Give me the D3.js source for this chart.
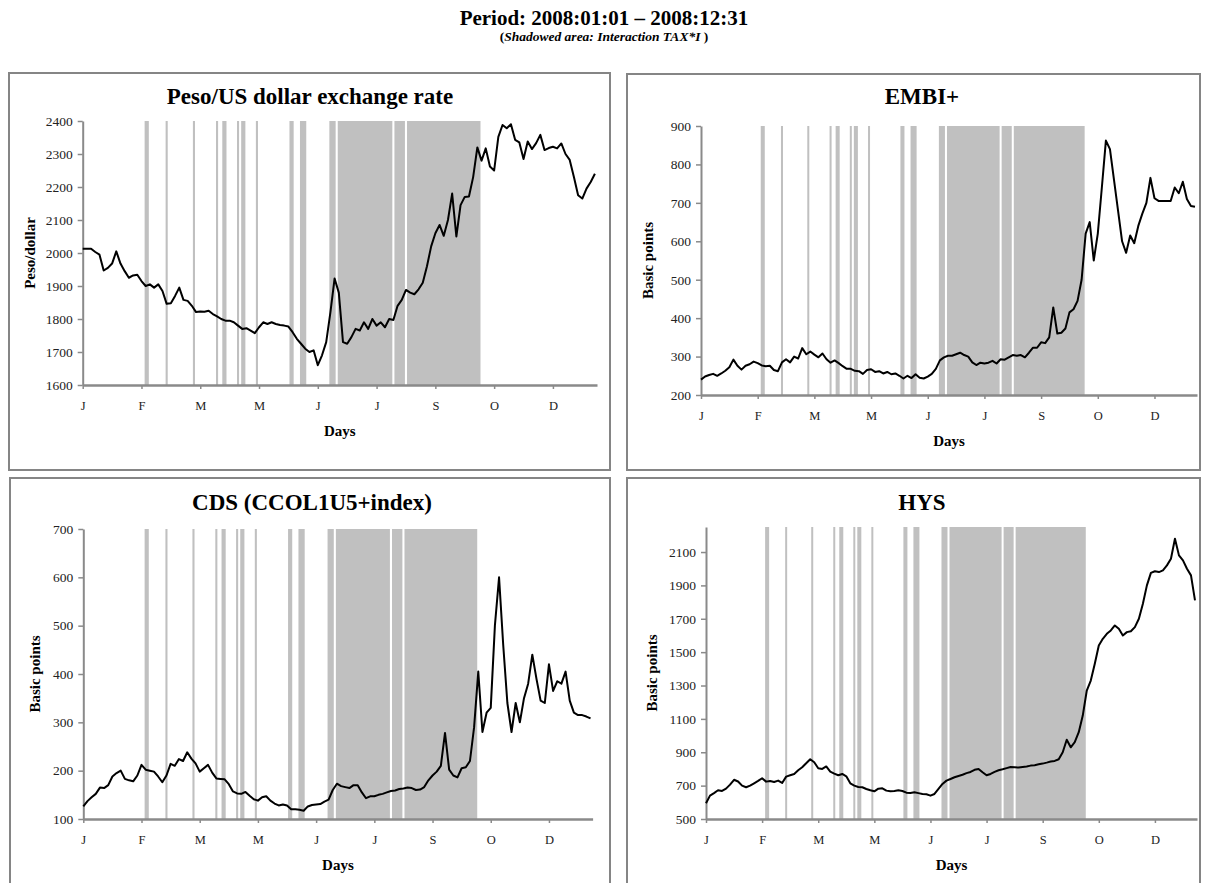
<!DOCTYPE html>
<html>
<head>
<meta charset="utf-8">
<script src="https://cdn.jsdelivr.net/npm/d3@7"></script>
<style>
  body { margin: 0; background: #fff; }
  svg text { font-family: "Liberation Serif", "Times New Roman", serif; }
</style>
</head>
<body>
<script>
// Values sampled every 2 trading days (day 0, 2, 4, ... 244)
const sampleStep = 2;

const pesoDollar = [2013,2013,2013,2003,1995,1947,1955,1968,2005,1968,1945,1925,1932,1934,1915,1900,1905,1895,1905,1885,
  1846,1848,1870,1895,1858,1855,1840,1821,1823,1822,1825,1815,1808,1800,1795,1795,1790,1780,1770,1772,
  1765,1757,1775,1790,1785,1790,1785,1782,1780,1777,1760,1740,1725,1710,1700,1705,1660,1690,1730,1820,
  1923,1880,1730,1725,1745,1770,1765,1790,1770,1800,1780,1790,1775,1800,1797,1840,1858,1888,1880,1875,
  1890,1910,1960,2020,2060,2085,2052,2100,2180,2050,2145,2170,2171,2230,2320,2280,2317,2262,2250,2352,
  2388,2378,2390,2343,2335,2285,2338,2315,2333,2358,2312,2318,2322,2317,2332,2300,2282,2230,2175,2165,
  2195,2215,2240];

const embi = [240,248,252,255,250,256,263,272,292,276,266,276,280,287,283,277,275,276,265,262,
  285,293,285,300,295,322,306,313,305,298,308,293,284,290,283,275,268,268,263,262,
  255,265,267,260,262,256,260,254,256,250,243,250,244,254,245,243,248,255,268,290,
  298,302,302,306,310,304,300,285,278,284,282,284,289,282,293,292,298,304,302,304,
  298,310,323,323,337,335,350,428,360,362,373,415,423,445,500,620,650,550,620,740,
  862,840,760,680,600,570,615,595,640,672,700,765,712,705,705,705,705,740,725,755,
  710,692,690];

const cds = [126,137,145,152,165,164,170,188,195,200,183,180,178,190,212,202,200,198,188,176,
  190,214,210,224,220,238,225,215,198,205,212,196,184,183,182,172,157,153,152,156,
  148,141,138,145,147,138,132,128,130,128,120,120,119,117,126,129,130,131,136,140,
  160,173,168,166,164,170,170,155,143,147,147,150,152,155,158,159,162,163,165,164,
  160,161,166,180,190,198,210,278,202,190,186,205,207,220,290,405,280,320,330,500,
  600,460,340,280,340,300,350,380,440,390,345,340,420,365,385,380,405,345,320,315,
  315,312,308];

const hys = [594,640,655,672,668,682,706,735,725,700,690,700,714,728,744,724,728,722,730,716,
  754,762,770,792,810,834,858,840,804,800,815,784,772,762,770,756,714,700,692,690,
  680,672,666,682,684,670,666,668,672,668,658,656,660,655,650,648,640,650,680,710,
  730,740,750,758,765,775,782,795,800,780,762,770,782,792,798,805,812,810,808,812,
  815,820,822,828,832,838,845,848,858,900,975,930,960,1020,1120,1270,1330,1430,1540,1580,
  1610,1630,1660,1640,1600,1620,1625,1650,1700,1790,1900,1975,1985,1980,1990,2020,2060,2180,2080,2050,
  2000,1960,1810];

// Shadowed days (interaction TAX*I), inclusive trading-day ranges
const shadeRanges = [[30,31],[40,40],[53,53],[64,64],[67,68],[74,74],[76,77],[83,83],
  [99,100],[104,106],[118,120],[122,147],[149,153],[155,189]];

// Category axis labels
const monthTickDays = [0,28,56,84,112,140,168,196,224];
const monthLabels = ['J','F','M','M','J','J','S','O','D'];

const pesoTicks = [1600,1700,1800,1900,2000,2100,2200,2300,2400];
const embiTicks = [200,300,400,500,600,700,800,900];
const cdsTicks = [100,200,300,400,500,600,700];
const hysTicks = [500,700,900,1100,1300,1500,1700,1900,2100];

const lastDay = 245;

const panels = [
  { title: 'Peso/US dollar exchange rate', ylab: 'Peso/dollar', values: pesoDollar,
    yDomain: [1600, 2400], yTicks: pesoTicks,
    box: [9, 73, 601, 397], px: [82.7, 597], py: [385, 121],
    titleX: 310, titleY: 104, ylabX: 35 },
  { title: 'EMBI+', ylab: 'Basic points', values: embi,
    yDomain: [200, 900], yTicks: embiTicks,
    box: [627, 74, 573, 396], px: [701, 1197], py: [395, 126],
    titleX: 922, titleY: 104, ylabX: 653 },
  { title: 'CDS (CCOL1U5+index)', ylab: 'Basic points', values: cds,
    yDomain: [100, 700], yTicks: cdsTicks,
    box: [10, 478, 600, 440], px: [83.3, 592.6], py: [819, 529],
    titleX: 312, titleY: 510, ylabX: 40 },
  { title: 'HYS', ylab: 'Basic points', values: hys,
    yDomain: [500, 2250], yTicks: hysTicks,
    box: [627, 478, 573, 440], px: [706, 1197], py: [819, 527],
    titleX: 922, titleY: 510, ylabX: 657 }
];

const svg = d3.select('body').append('svg')
  .attr('width', 1209).attr('height', 883);

// Main heading
svg.append('text')
  .attr('x', 604).attr('y', 25)
  .attr('text-anchor', 'middle')
  .style('font-size', '21px').style('font-weight', 'bold')
  .text('Period: 2008:01:01 \u2013 2008:12:31');

let sub = svg.append('text')
  .attr('x', 604).attr('y', 41)
  .attr('text-anchor', 'middle')
  .style('font-size', '13.5px').style('font-weight', 'bold');
sub.append('tspan').text('(');
sub.append('tspan').style('font-style', 'italic').text('Shadowed area: Interaction TAX*I ');
sub.append('tspan').text(')');

panels.forEach(p => {
  let g = svg.append('g');

  g.append('rect')
    .attr('x', p.box[0]).attr('y', p.box[1])
    .attr('width', p.box[2]).attr('height', p.box[3])
    .attr('fill', '#fff').attr('stroke', '#858585').attr('stroke-width', 2);

  let x = d3.scaleLinear().domain([0, lastDay]).range(p.px);
  let y = d3.scaleLinear().domain(p.yDomain).range(p.py);

  // Shading
  g.selectAll('rect.shade').data(shadeRanges).enter().append('rect')
    .attr('class', 'shade')
    .attr('x', d => x(d[0] - 0.5))
    .attr('width', d => x(d[1] + 0.5) - x(d[0] - 0.5))
    .attr('y', y(p.yDomain[1]))
    .attr('height', y(p.yDomain[0]) - y(p.yDomain[1]))
    .attr('fill', '#c0c0c0');

  // Y axis
  let yAxis = g.append('g')
    .attr('transform', `translate(${p.px[0]},0)`)
    .call(d3.axisLeft(y).tickValues(p.yTicks).tickFormat(d3.format('d'))
      .tickSize(5).tickSizeOuter(0).tickPadding(5));
  yAxis.select('.domain').attr('stroke', '#8a8a8a').attr('stroke-width', 2);
  yAxis.selectAll('.tick line').attr('stroke', '#8a8a8a').attr('stroke-width', 1.5);
  yAxis.selectAll('.tick text').style('font-size', '13.5px').attr('fill', '#222')
    .style('font-family', '"Liberation Serif", serif');

  // X axis
  let xAxis = g.append('g')
    .attr('transform', `translate(0,${p.py[0]})`)
    .call(d3.axisBottom(x).tickValues(monthTickDays)
      .tickFormat((d, i) => monthLabels[i]).tickSize(4).tickSizeOuter(0).tickPadding(12));
  xAxis.select('.domain').attr('stroke', '#8a8a8a').attr('stroke-width', 2.5);
  xAxis.selectAll('.tick line').attr('stroke', '#8a8a8a').attr('stroke-width', 1.5);
  xAxis.selectAll('.tick text').style('font-size', '12.5px').attr('fill', '#222')
    .style('font-family', '"Liberation Serif", serif');

  // Series line
  let line = d3.line()
    .x((d, i) => x(i * sampleStep))
    .y(d => y(d));
  g.append('path')
    .datum(p.values)
    .attr('d', line)
    .attr('fill', 'none')
    .attr('stroke', '#000')
    .attr('stroke-width', 2)
    .attr('stroke-linejoin', 'round');

  // Titles and labels
  g.append('text')
    .attr('x', p.titleX).attr('y', p.titleY)
    .attr('text-anchor', 'middle')
    .style('font-size', '23px').style('font-weight', 'bold')
    .text(p.title);

  g.append('text')
    .attr('transform', `translate(${p.ylabX},${(p.py[0] + p.py[1]) / 2}) rotate(-90)`)
    .attr('text-anchor', 'middle')
    .style('font-size', '15px').style('font-weight', 'bold')
    .text(p.ylab);

  g.append('text')
    .attr('x', (p.px[0] + p.px[1]) / 2).attr('y', p.py[0] + 51)
    .attr('text-anchor', 'middle')
    .style('font-size', '15px').style('font-weight', 'bold')
    .text('Days');
});
</script>
</body>
</html>
